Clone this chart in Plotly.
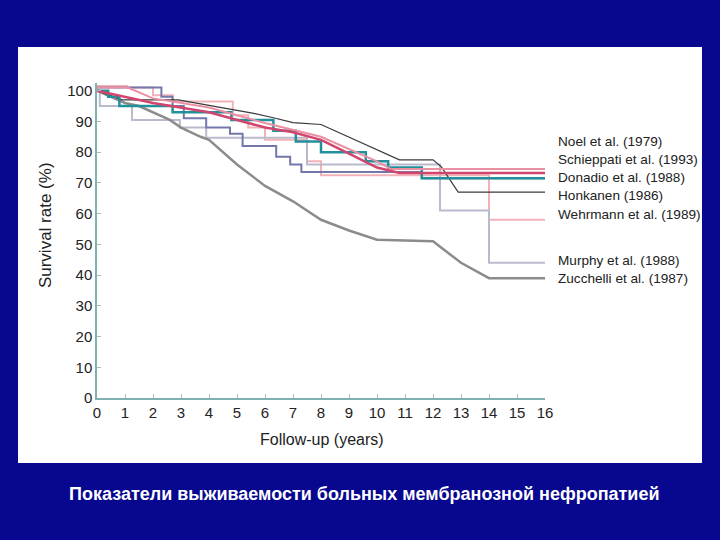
import plotly.graph_objects as go

# ---- data ----
honkanen_x = [0, 0.9, 2.9, 5.5, 6.3, 7.0, 8.0, 10.8, 12.0, 12.3, 12.9, 16]
honkanen_y = [100, 97, 97, 92.8, 91.2, 89.6, 89, 77.5, 77.5, 75.2, 67, 67]

schieppati_x = [0, 2, 4, 5, 6, 7, 8, 9, 10, 10.8, 16]
schieppati_y = [100, 96, 93, 90.5, 88, 86.5, 84, 79.5, 75, 73.2, 73.2]

noel_x = [0, 1.1, 2, 4, 5, 6, 8, 10, 10.5, 16]
noel_y = [101, 101, 97.5, 94.5, 92, 89.5, 85, 77, 74.5, 74.5]

donadio_x = [0, 0.4, 0.8, 2.7, 4.8, 6.3, 7.1, 8.0, 9.6, 10.4, 11.6, 16]
donadio_y = [100, 98, 95, 93, 90.5, 87, 83.5, 80, 77, 75, 71.5, 71.5]

slate_x = [0, 2.3, 2.7, 3.1, 3.9, 4.75, 5.2, 6.4, 6.9, 7.3, 11.6, 16]
slate_y = [101, 98, 95, 91, 88, 86, 82, 78.5, 76, 73.5, 71.5, 71.5]

wehrmann_x = [0, 1.07, 2.0, 2.7, 4.85, 5.4, 6.0, 7.5, 8.0, 14, 16]
wehrmann_y = [101.5, 101, 98.5, 96.5, 92, 88, 84, 77, 72.5, 58, 58]

murphy_x = [0, 0.1, 1.25, 2.96, 3.9, 7.5, 12.25, 14, 16]
murphy_y = [100, 95, 90.5, 88, 84.7, 76, 61, 44, 44]

zucchelli_x = [0, 1, 1.5, 2, 2.6, 3, 3.7, 4, 5, 6, 7, 8, 9, 10, 12, 13, 14, 16]
zucchelli_y = [100, 96, 95, 93, 90.5, 88, 85, 84, 76, 69, 64, 58, 54.5, 51.5, 51, 44, 39, 39]

labels = ["Noel et al. (1979)", "Schieppati et al. (1993)", "Donadio et al. (1988)",
          "Honkanen (1986)", "Wehrmann et al. (1989)", "Murphy et al. (1988)",
          "Zucchelli et al. (1987)"]
label_y = [83.4, 77.5, 71.7, 65.8, 59.6, 44.6, 38.8]

x_ticks = list(range(0, 17))
y_ticks = list(range(0, 101, 10))

caption = "Показатели выживаемости больных мембранозной нефропатией"

Y_TOP = 102.5
FONT = "Liberation Sans, Arial, Helvetica"

# ---- figure ----
fig = go.Figure()

def add(x, y, color, width, shape):
    fig.add_trace(go.Scatter(x=x, y=y, mode="lines", line=dict(color=color, width=width, shape=shape),
                             showlegend=False, hoverinfo="skip", cliponaxis=False))

add(wehrmann_x, wehrmann_y, "#f2b3b8", 2, "hv")
add(murphy_x, murphy_y, "#babacd", 2, "hv")
add(slate_x, slate_y, "#7477aa", 2, "hv")
add(zucchelli_x, zucchelli_y, "#8c8c8c", 2.5, "linear")
add(honkanen_x, honkanen_y, "#3a3a3a", 1.2, "linear")
add(donadio_x, donadio_y, "#22909a", 2.5, "hv")
add(noel_x, noel_y, "#ec8fa2", 2, "linear")
add(schieppati_x, schieppati_y, "#d2466e", 2.5, "linear")

for t, yy in zip(labels, label_y):
    fig.add_annotation(x=1.0246, y=yy / Y_TOP, xref="paper", yref="paper", text=t, showarrow=False,
                       xanchor="left", yanchor="middle",
                       font=dict(family=FONT, size=13.6, color="#222222"))

fig.add_annotation(x=-0.116, y=0.549, xref="paper", yref="paper", text="Survival rate (%)",
                   textangle=-90, showarrow=False, xanchor="center", yanchor="middle",
                   font=dict(family=FONT, size=17, color="#222222"))
fig.add_annotation(x=0.502, y=-0.1333, xref="paper", yref="paper", text="Follow-up (years)",
                   showarrow=False, xanchor="center", yanchor="middle",
                   font=dict(family=FONT, size=16, color="#222222"))
fig.add_annotation(x=0.598, y=-0.3048, xref="paper", yref="paper", text="<b>" + caption + "</b>",
                   showarrow=False, xanchor="center", yanchor="middle",
                   font=dict(family=FONT, size=18, color="white"))

fig.add_shape(type="rect", xref="paper", yref="paper", x0=-0.1763, x1=1.3504, y0=-0.2063, y1=1.1143,
              fillcolor="white", line=dict(width=0), layer="below")

axis_common = dict(showgrid=False, zeroline=False, showline=True, linecolor="#7fb1b3", linewidth=1.5,
                   ticks="inside", ticklen=4, tickcolor="#b5b5b5", tickwidth=1,
                   tickfont=dict(family=FONT, size=15, color="#222222"))

fig.update_xaxes(range=[0, 16], tickvals=x_ticks, ticktext=[str(v) for v in x_ticks], **axis_common)
fig.update_yaxes(range=[0, Y_TOP], tickvals=y_ticks, ticktext=[str(v) for v in y_ticks], **axis_common)

fig.update_layout(width=720, height=540, margin=dict(l=97, r=175, t=83, b=142),
                  paper_bgcolor="#07078f", plot_bgcolor="white")

fig.write_html("out.html")
